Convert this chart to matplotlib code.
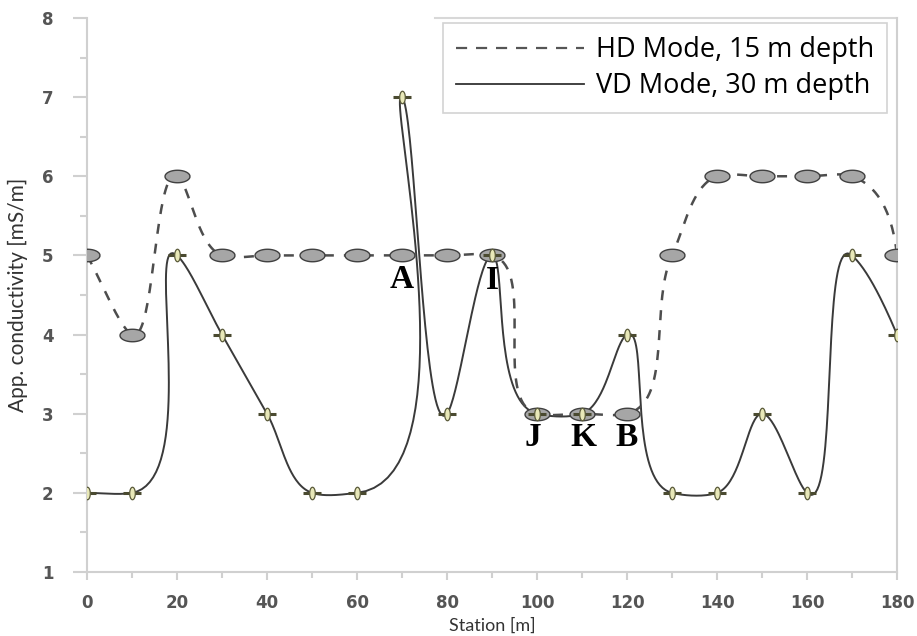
import numpy as np
import matplotlib.pyplot as plt
from matplotlib.ticker import MultipleLocator

# Station positions and apparent conductivity readings
station = [0, 10, 20, 30, 40, 50, 60, 70, 80, 90, 100, 110, 120, 130, 140, 150, 160, 170, 180]
hd_15m = [5, 4, 6, 5, 5, 5, 5, 5, 5, 5, 3, 3, 3, 5, 6, 6, 6, 6, 5]
vd_30m = [2, 2, 5, 4, 3, 2, 2, 7, 3, 5, 3, 3, 4, 2, 2, 3, 2, 5, 4]

# Labelled anomalies: (text, station, value)
labels = [("A", 70, 4.69), ("I", 90, 4.68), ("J", 99, 2.70), ("K", 110.2, 2.70), ("B", 120, 2.70)]


def smooth_curve(ax, x, y, n=40):
    # chord-length Catmull-Rom Bezier segments built in screen space
    P = ax.transData.transform(np.column_stack([x, y]))
    seg = np.diff(P, axis=0)
    h = np.hypot(seg[:, 0], seg[:, 1])
    d = seg / h[:, None]
    m = np.zeros_like(P)
    m[1:-1] = (h[1:, None] * d[:-1] + h[:-1, None] * d[1:]) / (h[:-1] + h[1:])[:, None]
    m[0] = d[0]
    m[-1] = 2 * d[-1] - m[-2]
    t = np.linspace(0, 1, n)[:, None]
    pieces = []
    for i in range(len(P) - 1):
        b0, b3 = P[i], P[i + 1]
        b1 = b0 + m[i] * h[i] / 3
        b2 = b3 - m[i + 1] * h[i] / 3
        c = (1 - t) ** 3 * b0 + 3 * (1 - t) ** 2 * t * b1 + 3 * (1 - t) * t ** 2 * b2 + t ** 3 * b3
        pieces.append(c if i == 0 else c[1:])
    out = ax.transData.inverted().transform(np.vstack(pieces))
    return out[:, 0], out[:, 1]


fig = plt.figure(figsize=(9.17, 6.36), dpi=100)
ax = fig.add_axes([0.0949, 0.1006, 0.8833, 0.8711])
ax.set_xlim(0, 180)
ax.set_ylim(1, 8)

cx, cy = smooth_curve(ax, station, vd_30m)
ax.plot(cx, cy, color="#3a3a3a", lw=1.4, zorder=2)
hx, hy = smooth_curve(ax, station, hd_15m)
ax.plot(hx, hy, color="#4d4d4d", lw=1.8, ls=(0, (4, 4)), zorder=2)

# ellipse marker for HD, plus-shaped marker for VD
th = np.linspace(0, 2 * np.pi, 40)
ellipse_h = np.column_stack([np.cos(th), 0.5 * np.sin(th)])
ellipse_v = np.column_stack([0.45 * np.cos(th), np.sin(th)])
ax.plot(station, hd_15m, ls="none", marker=ellipse_h, ms=18, mfc="#a6a6a6", mec="#404040", mew=1.0, zorder=3)
ax.plot(station, vd_30m, ls="none", marker="_", ms=13, mec="#4a4a30", mew=2.2, zorder=4)
ax.plot(station, vd_30m, ls="none", marker=ellipse_v, ms=9, mfc="#e8e8b8", mec="#5a5a3a", mew=0.9, zorder=5)

for txt, sx, sy in labels:
    ax.text(sx, sy, txt, ha="center", va="center", fontsize=24, fontweight="bold",
            family="Liberation Serif", color="black", zorder=6)

# legend handles without markers
ax.plot([], [], color="#555555", lw=1.6, ls=(0, (5, 4)), label="HD Mode, 15 m depth")
ax.plot([], [], color="#333333", lw=1.3, label="VD Mode, 30 m depth")
leg = ax.legend(loc="upper right", bbox_to_anchor=(0.9877, 0.991), borderaxespad=0,
                prop={"family": "Open Sans", "size": 19.5}, handlelength=4.7, handletextpad=0.45,
                labelspacing=0.3, fancybox=False, frameon=True, borderpad=0.48)
leg.get_frame().set_edgecolor("#c8c8c8")
leg.get_frame().set_linewidth(1.2)

ax.spines["top"].set_visible(False)
for side in ["left", "bottom", "right"]:
    ax.spines[side].set_color("#d0d0d0")
    ax.spines[side].set_linewidth(1.5)
# border line above the legend area
ax.plot([0.43, 1.0], [1.0, 1.0], transform=ax.transAxes, color="#d8d8d8", lw=1.5, clip_on=False)

ax.xaxis.set_major_locator(MultipleLocator(20))
ax.xaxis.set_minor_locator(MultipleLocator(10))
ax.yaxis.set_major_locator(MultipleLocator(1))
ax.yaxis.set_minor_locator(MultipleLocator(0.5))
ax.tick_params(axis="y", which="major", length=10, width=1.5, color="#d0d0d0", pad=14)
ax.tick_params(axis="y", which="minor", length=5, width=1.5, color="#d0d0d0")
ax.tick_params(axis="x", which="major", length=6, width=1.5, color="#d0d0d0", pad=10)
ax.tick_params(axis="x", which="minor", length=4, width=1.5, color="#d0d0d0")
for lab in ax.get_xticklabels() + ax.get_yticklabels():
    lab.set_fontsize(12)
    lab.set_fontweight("bold")
    lab.set_color("#555555")

ax.set_xlabel("Station [m]", family="Lato", fontsize=13, color="#333333", labelpad=4)
ax.set_ylabel("App. conductivity [mS/m]", family="Lato", fontsize=15, color="#333333", labelpad=10)

fig.savefig("out.png", dpi=100)
